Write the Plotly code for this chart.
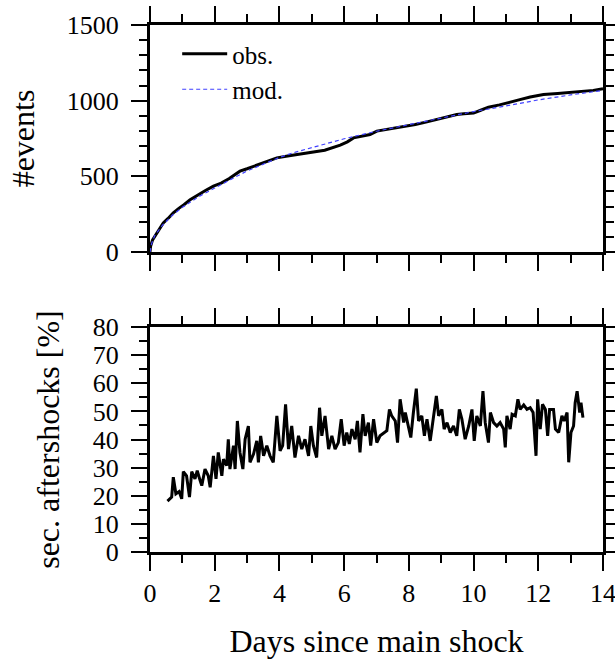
import plotly.graph_objects as go

# ---- top panel: cumulative number of events ----
obs_days = [0.0, 0.02, 0.08, 0.15, 0.25, 0.41, 0.55, 0.72, 0.9, 1.05, 1.24, 1.45, 1.7, 1.96, 2.2, 2.45,
            2.68, 2.78, 3.0, 3.2, 3.4, 3.65, 3.92, 4.3, 4.7, 5.05, 5.4, 5.88, 6.1, 6.29, 6.6, 6.8,
            7.01, 7.4, 7.94, 8.2, 8.56, 9.0, 9.48, 9.7, 10.0, 10.2, 10.46, 10.8, 11.13, 11.4,
            11.75, 12.16, 12.6, 13.0, 13.3, 13.7, 14.0]
obs_counts = [0, 40, 80, 104, 140, 192, 220, 258, 290, 312, 346, 375, 405, 435, 455, 485,
              523, 534, 550, 565, 582, 603, 622, 636, 648, 662, 672, 706, 728, 754, 765, 776,
              799, 812, 832, 842, 860, 883, 909, 914, 918, 935, 957, 972, 993, 1005,
              1024, 1041, 1048, 1054, 1059, 1068, 1079]

mod_days = [0.0, 0.05, 0.15, 0.4, 0.7, 1.0, 1.5, 2.0, 2.5, 3.0, 3.5, 4.0, 4.5, 5.0, 5.5, 6.0,
            7.0, 8.0, 9.0, 10.0, 11.0, 12.0, 13.0, 14.0]
mod_counts = [0, 55, 110, 180, 245, 295, 365, 425, 480, 535, 580, 625, 660, 690, 718, 748,
              798, 842, 885, 928, 965, 1005, 1038, 1068]

# ---- bottom panel: fraction of secondary aftershocks ----
sec_days = [0.54, 0.67, 0.72, 0.80, 0.90, 0.98, 1.03, 1.13, 1.22, 1.29, 1.39, 1.46, 1.55, 1.60, 1.70,
            1.80, 1.86, 1.96, 2.04, 2.11, 2.22, 2.27, 2.37, 2.42, 2.47, 2.58, 2.63, 2.70, 2.78, 2.87,
            2.94, 3.04, 3.09, 3.20, 3.30, 3.35, 3.42, 3.51, 3.61, 3.71, 3.81, 3.92, 4.02, 4.10, 4.19,
            4.28, 4.38, 4.48, 4.59, 4.69, 4.79, 4.90, 4.97, 5.05, 5.15, 5.24, 5.31, 5.41, 5.52, 5.62,
            5.72, 5.82, 5.91, 6.00, 6.08, 6.16, 6.24, 6.34, 6.41, 6.49, 6.58, 6.65, 6.75, 6.82, 6.91,
            7.01, 7.11, 7.22, 7.32, 7.40, 7.47, 7.58, 7.65, 7.73, 7.84, 7.89, 7.99, 8.06, 8.14, 8.23,
            8.30, 8.40, 8.48, 8.56, 8.66, 8.76, 8.85, 8.92, 9.02, 9.09, 9.18, 9.28, 9.38, 9.48, 9.56,
            9.64, 9.74, 9.85, 9.95, 10.02, 10.10, 10.21, 10.29, 10.36, 10.46, 10.52, 10.62, 10.72, 10.82,
            10.93, 10.98, 11.03, 11.13, 11.19, 11.29, 11.37, 11.44, 11.55, 11.65, 11.75, 11.84, 11.93,
            11.98, 12.06, 12.13, 12.22, 12.29, 12.35, 12.47, 12.53, 12.63, 12.73, 12.80, 12.89, 12.94,
            13.01, 13.09, 13.14, 13.20, 13.28, 13.32, 13.38]
sec_pct = [18.1, 19.5, 26.6, 20.7, 21.5, 18.9, 28.6, 27.1, 19.5, 28.6, 26.0, 28.9, 25.4, 23.6, 29.5,
           27.1, 23.0, 34.2, 26.0, 35.4, 27.1, 33.0, 30.7, 40.1, 29.5, 37.8, 29.5, 46.6, 35.4, 29.5,
           40.1, 44.8, 31.9, 34.8, 39.5, 31.9, 41.3, 34.2, 37.8, 34.2, 31.9, 48.4, 36.0, 37.8, 52.5,
           36.6, 44.8, 33.6, 41.3, 36.6, 40.1, 34.2, 44.8, 37.8, 33.6, 51.3, 41.3, 48.4, 36.6, 41.3,
           36.6, 38.9, 47.2, 37.8, 42.5, 38.4, 43.7, 40.1, 46.6, 35.4, 49.0, 41.3, 46.0, 37.8, 47.2,
           38.9, 41.3, 42.2, 43.1, 50.7, 48.4, 46.6, 38.9, 54.3, 46.0, 49.6, 44.8, 40.7, 49.6, 58.1,
           46.6, 48.4, 41.3, 47.2, 39.5, 47.2, 55.5, 48.4, 50.7, 43.7, 46.0, 42.5, 44.8, 41.3, 50.7,
           47.2, 40.1, 44.8, 50.7, 39.5, 48.4, 44.8, 57.2, 46.0, 38.9, 49.6, 46.0, 44.8, 46.0,
           43.7, 37.2, 48.4, 43.7, 49.0, 48.4, 54.3, 50.7, 52.3, 50.7, 51.3, 49.6, 34.2,
           54.3, 43.7, 52.5, 50.7, 41.3, 50.7, 50.7, 43.7, 42.5, 48.4, 46.6, 49.6, 31.9,
           42.5, 44.8, 53.1, 57.2, 49.6, 53.1, 47.8]

FONT = "Liberation Serif"
TICKFONT = dict(family=FONT, size=26, color="black")
TITLEFONT = dict(family=FONT, size=32, color="black")

fig = go.Figure()
fig.add_trace(go.Scatter(x=obs_days, y=obs_counts, mode="lines", name="obs.",
                         line=dict(color="black", width=3), xaxis="x", yaxis="y"))
fig.add_trace(go.Scatter(x=mod_days, y=mod_counts, mode="lines", name="mod.",
                         line=dict(color="#4040ff", width=1.2, dash="4px,3px"), xaxis="x", yaxis="y"))
fig.add_trace(go.Scatter(x=sec_days, y=sec_pct, mode="lines", showlegend=False,
                         line=dict(color="black", width=3), xaxis="x2", yaxis="y2"))

common = dict(showline=True, linewidth=3, linecolor="black", mirror="allticks",
              ticks="outside", ticklen=16, tickwidth=1.5, tickcolor="black",
              showgrid=False, zeroline=False, tickfont=TICKFONT, automargin=False,
              ticklabeloverflow="allow")

fig.update_layout(
    width=615, height=659,
    margin=dict(l=150, r=12, t=25, b=107),
    paper_bgcolor="white", plot_bgcolor="white",
    font=dict(family=FONT, color="black"),
    xaxis=dict(domain=[0, 1], anchor="y", range=[0, 14], dtick=2, tick0=0,
               showticklabels=False,
               minor=dict(ticks="outside", ticklen=8, dtick=1, tickwidth=1.5, tickcolor="black"),
               **common),
    yaxis=dict(domain=[0.5693, 1], anchor="x", range=[0, 1500], dtick=500, tick0=0,
               ticklabelstandoff=7,
               minor=dict(ticks="outside", ticklen=8, dtick=100, tickwidth=1.5, tickcolor="black"),
               title=dict(text="#events", font=TITLEFONT, standoff=23),
               **common),
    xaxis2=dict(domain=[0, 1], anchor="y2", range=[0, 14], dtick=2, tick0=0,
                minor=dict(ticks="outside", ticklen=8, dtick=1, tickwidth=1.5, tickcolor="black"),
                title=dict(text="Days since main shock", font=TITLEFONT, standoff=24),
                **common),
    yaxis2=dict(domain=[0, 0.4269], anchor="x2", range=[0, 80], dtick=10, tick0=0,
                ticklabelstandoff=7,
                minor=dict(ticks="outside", ticklen=8, dtick=5, tickwidth=1.5, tickcolor="black"),
                title=dict(text="sec. aftershocks [%]", font=TITLEFONT, standoff=24),
                **common),
    legend=dict(x=0.06, y=0.9886, xanchor="left", yanchor="top", itemwidth=45,
                bgcolor="rgba(0,0,0,0)", borderwidth=0, tracegroupgap=0,
                font=dict(family=FONT, size=25, color="black")),
)

fig.write_html("out.html")
